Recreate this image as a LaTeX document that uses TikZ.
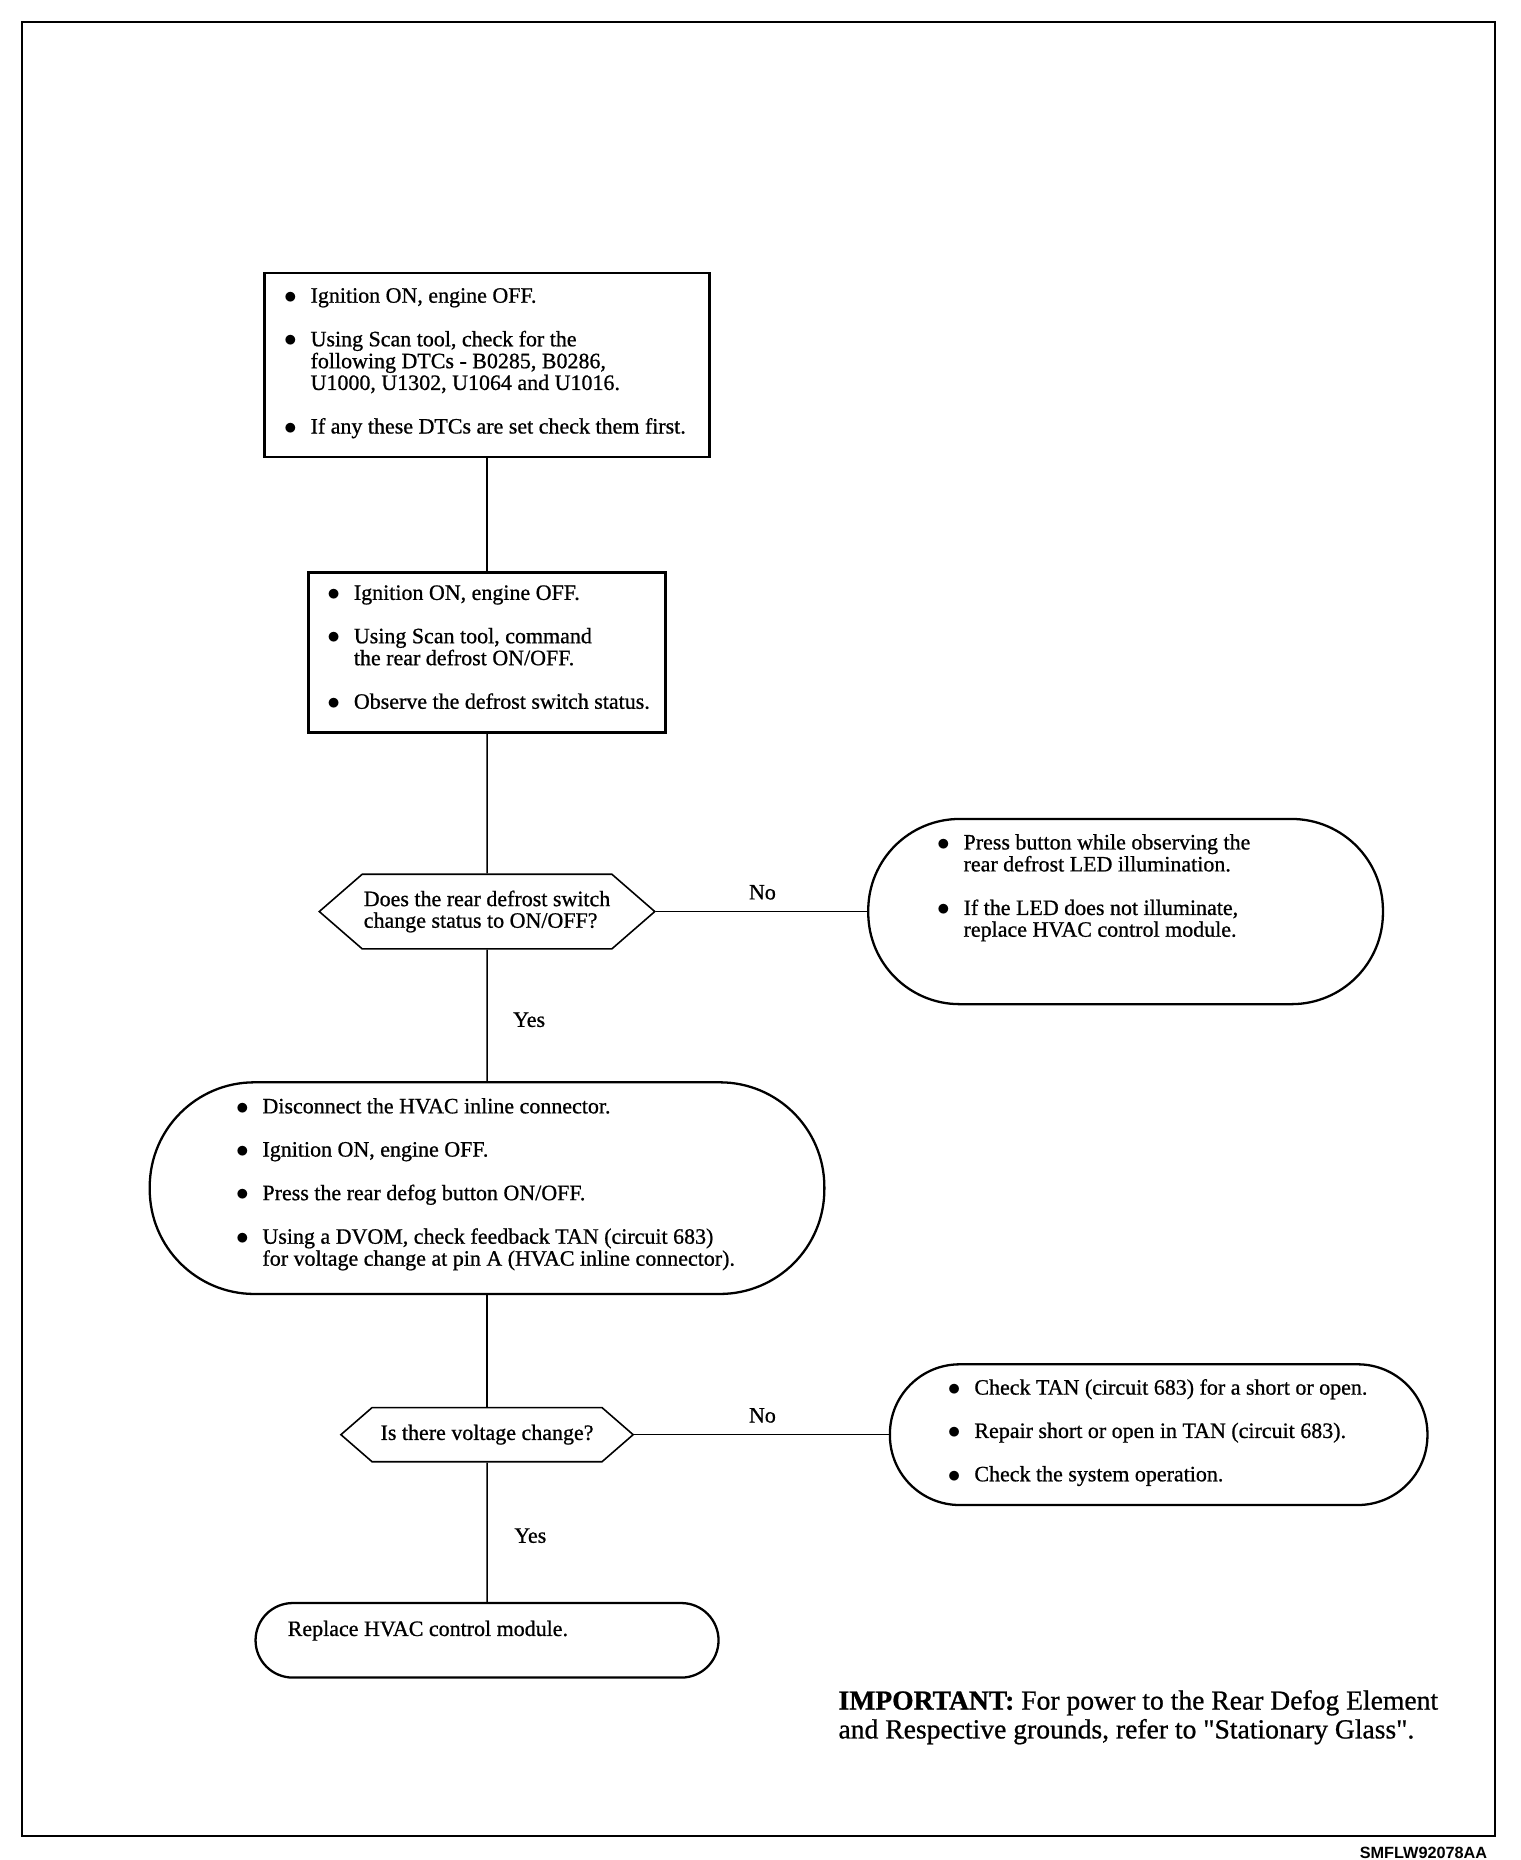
\documentclass[tikz,border=0pt]{standalone}
\usepackage{fontspec}
\setmainfont{Liberation Serif}[FakeBold=0.8]
\newfontfamily\idfont{Liberation Sans}
\usetikzlibrary{shapes.symbols}

\newlength\unitpx
\setlength\unitpx{0.02405cm}
\newcommand{\stepfont}{\fontsize{12.5}{12.3}\selectfont}
\newcommand{\notefont}{\fontsize{15.7}{16.4}\selectfont}
\newcommand{\steplist}[1]{\begin{tabular}{@{}p{22\unitpx}@{}l@{}}#1\end{tabular}}
\newcommand{\bul}{\raisebox{-0.4pt}{\fontsize{13.5}{12}\selectfont$\bullet$} &}

\begin{document}
\begin{tikzpicture}[x=0.02405cm, y=-0.02405cm,
    stepbox/.style={draw, line width=1.3pt, rectangle, inner sep=0pt},
    ovalbox/.style={draw, line width=1.3pt, rectangle, inner sep=0pt, rounded corners=#1},
    decision/.style={draw, line width=0.9pt, signal, signal to=east and west,
        signal pointer angle=82, inner sep=0pt, align=left, font=\stepfont},
    steptext/.style={anchor=west, inner sep=0pt, font=\stepfont},
    answer/.style={inner sep=0pt, font=\stepfont},
    link/.style={line width=0.9pt}]
    \useasboundingbox (0, 0) rectangle (1264, 1546.7);
    % frame
    \draw[line width=1pt] (18, 18) rectangle (1243, 1527);
    \draw (1237, 1541) node[anchor=east, inner sep=0pt, font=\idfont\bfseries\fontsize{9.25}{11}\selectfont](figid){SMFLW92078AA};

    % steps
    \draw (405, 303.5) node[stepbox, minimum width=370*\unitpx, minimum height=153*\unitpx](dtccheck){};
    \draw (236, 302.5) node[steptext](dtccheck text){\steplist{%
        \bul Ignition ON, engine OFF.\\[12.3pt]
        \bul Using Scan tool, check for the\\
        & following DTCs - B0285, B0286,\\
        & U1000, U1302, U1064 and U1016.\\[12.3pt]
        \bul If any these DTCs are set check them first.}};
    \draw (405, 542.5) node[stepbox, minimum width=297*\unitpx, minimum height=133*\unitpx](switchtest){};
    \draw (272, 540.5) node[steptext](switchtest text){\steplist{%
        \bul Ignition ON, engine OFF.\\[12.3pt]
        \bul Using Scan tool, command\\
        & the rear defrost ON/OFF.\\[12.3pt]
        \bul Observe the defrost switch status.}};
    \draw (405, 758) node[decision, minimum width=279*\unitpx, minimum height=62*\unitpx](switchq){Does the rear defrost switch\\change status to ON/OFF?};
    \draw (936, 758) node[ovalbox=76*\unitpx, minimum width=428*\unitpx, minimum height=154*\unitpx](ledcheck){};
    \draw (779, 739) node[steptext](ledcheck text){\steplist{%
        \bul Press button while observing the\\
        & rear defrost LED illumination.\\[12.3pt]
        \bul If the LED does not illuminate,\\
        & replace HVAC control module.}};
    \draw (405, 988) node[ovalbox=87*\unitpx, minimum width=561*\unitpx, minimum height=176*\unitpx](feedback){};
    \draw (196, 985.5) node[steptext](feedback text){\steplist{%
        \bul Disconnect the HVAC inline connector.\\[12.3pt]
        \bul Ignition ON, engine OFF.\\[12.3pt]
        \bul Press the rear defog button ON/OFF.\\[12.3pt]
        \bul Using a DVOM, check feedback TAN (circuit 683)\\
        & for voltage change at pin A (HVAC inline connector).}};
    \draw (405, 1193) node[decision, minimum width=243*\unitpx, minimum height=45*\unitpx](voltq){Is there voltage change?};
    \draw (963.5, 1193) node[ovalbox=58*\unitpx, minimum width=447*\unitpx, minimum height=117*\unitpx](tanrepair){};
    \draw (788, 1192) node[steptext](tanrepair text){\steplist{%
        \bul Check TAN (circuit 683) for a short or open.\\[12.3pt]
        \bul Repair short or open in TAN (circuit 683).\\[12.3pt]
        \bul Check the system operation.}};
    \draw (405, 1364) node[ovalbox=31*\unitpx, minimum width=385*\unitpx, minimum height=62*\unitpx](replace){};
    \draw (239, 1356) node[steptext](replace text){Replace HVAC control module.};

    % connectors
    \draw[link] (dtccheck) -- (switchtest);
    \draw[link] (switchtest) -- (switchq);
    \draw[link] (switchq.east) -- (ledcheck.west);
    \draw[link] (switchq) -- (feedback);
    \draw[link] (feedback) -- (voltq);
    \draw[link] (voltq.east) -- (tanrepair.west);
    \draw[link] (voltq) -- (replace);
    \draw (634, 742) node[answer](no1){No};
    \draw (440, 848) node[answer](yes1){Yes};
    \draw (634, 1177) node[answer](no2){No};
    \draw (441, 1277) node[answer](yes2){Yes};

    % note
    \draw (697, 1428) node[anchor=west, inner sep=0pt, align=left, font=\notefont](note){\textbf{IMPORTANT:} For power to the Rear Defog Element\\and Respective grounds, refer to \textquotedbl Stationary Glass\textquotedbl.};
\end{tikzpicture}
\end{document}
